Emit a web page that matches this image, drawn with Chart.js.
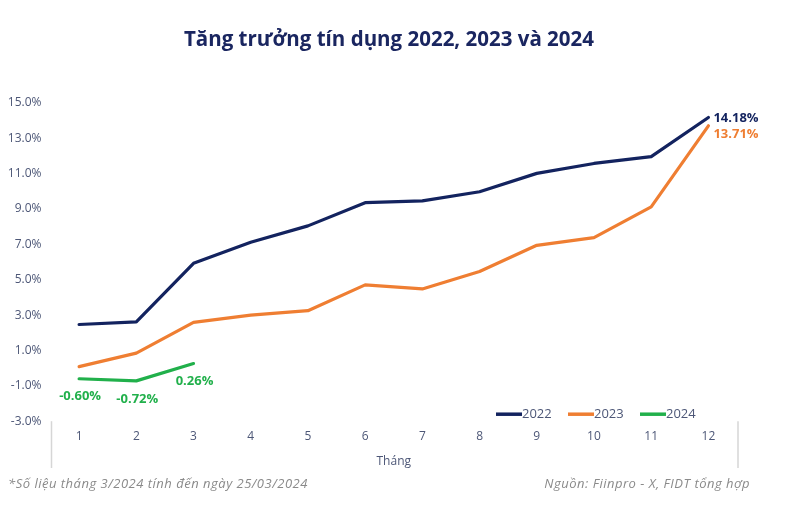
<!DOCTYPE html>
<html>
<head>
<meta charset="utf-8">
<script src="https://cdn.jsdelivr.net/npm/chart.js@4.4.1/dist/chart.umd.min.js"></script>
<style>
  html, body { margin: 0; padding: 0; background: #ffffff; }
  #wrap { position: relative; width: 800px; height: 505px; overflow: hidden; }
  #c { position: absolute; left: 0; top: 0; }
  #title { position: absolute; left: 0; width: 778px; top: 25px; text-align: center; font-family: "Open Sans", sans-serif; font-weight: bold; font-size: 20.5px; line-height: 26px; color: #1a2660; white-space: nowrap; }
  .note { position: absolute; top: 474px; font-family: "Open Sans", sans-serif; font-style: italic; font-size: 13px; letter-spacing: 0.5px; color: #8a8a8a; white-space: nowrap; }
  #n1 { left: 8px; }
  #n2 { right: 50px; }
</style>
</head>
<body>
<div id="wrap">
  <canvas id="c" width="800" height="505"></canvas>
  <div id="title">Tăng trưởng tín dụng 2022, 2023 và 2024</div>
  <div class="note" id="n1">*Số liệu tháng 3/2024 tính đến ngày 25/03/2024</div>
  <div class="note" id="n2">Nguồn: Fiinpro - X, FIDT tổng hợp</div>
</div>
<script>
const months = ['1','2','3','4','5','6','7','8','9','10','11','12'];
const s2022 = [2.47, 2.62, 5.93, 7.12, 8.05, 9.36, 9.46, 9.98, 11.02, 11.58, 11.97, 14.18];
const s2023 = [0.09, 0.85, 2.59, 3.00, 3.25, 4.71, 4.48, 5.47, 6.95, 7.38, 9.12, 13.71];
const s2024 = [-0.60, -0.72, 0.26, null, null, null, null, null, null, null, null, null];
const seriesNames = ['2022', '2023', '2024'];
const seriesColors = ['#13235f', '#ef7e32', '#21b04b'];

const FONT = '"Open Sans", sans-serif';
const TICK_COLOR = '#4d5777';

const edgeLines = {
  id: 'edgeLines',
  afterDraw(chart) {
    const ctx = chart.ctx, x = chart.scales.x, area = chart.chartArea;
    ctx.save();
    ctx.strokeStyle = '#d6d6d6';
    ctx.lineWidth = 1.5;
    [x.left, x.right].forEach(px => {
      ctx.beginPath();
      ctx.moveTo(px + 1, area.bottom);
      ctx.lineTo(px + 1, x.bottom - 5);
      ctx.stroke();
    });
    ctx.restore();
  }
};

const inLegend = {
  id: 'inLegend',
  afterDraw(chart) {
    const ctx = chart.ctx, area = chart.chartArea;
    ctx.save();
    ctx.font = '13px ' + FONT;
    const lineW = 26, itemW = 72;
    let x = area.right - 241;
    const y = area.bottom - 7;
    ctx.textBaseline = 'middle';
    ctx.textAlign = 'left';
    seriesNames.forEach((n, i) => {
      ctx.strokeStyle = seriesColors[i];
      ctx.lineWidth = 3.5;
      ctx.beginPath();
      ctx.moveTo(x, y);
      ctx.lineTo(x + lineW, y);
      ctx.stroke();
      ctx.fillStyle = TICK_COLOR;
      ctx.fillText(n, x + lineW, y);
      x += itemW;
    });
    ctx.restore();
  }
};

const valueLabels = {
  id: 'valueLabels',
  afterDatasetsDraw(chart) {
    const ctx = chart.ctx;
    ctx.save();
    ctx.font = 'bold 13px ' + FONT;
    ctx.textBaseline = 'middle';
    [0, 1].forEach(di => {
      const ds = chart.data.datasets[di];
      const meta = chart.getDatasetMeta(di);
      const last = ds.data.length - 1;
      const pt = meta.data[last];
      ctx.fillStyle = seriesColors[di];
      ctx.textAlign = 'left';
      const dy = di === 0 ? 1 : 8;
      ctx.fillText(ds.data[last].toFixed(2) + '%', pt.x + 5, pt.y + dy);
    });
    const ds = chart.data.datasets[2];
    const meta = chart.getDatasetMeta(2);
    ctx.fillStyle = seriesColors[2];
    ctx.textAlign = 'center';
    ds.data.forEach((v, i) => {
      if (v === null) return;
      const pt = meta.data[i];
      ctx.fillText(v.toFixed(2) + '%', pt.x + 1, pt.y + 18);
    });
    ctx.restore();
  }
};

new Chart(document.getElementById('c'), {
  type: 'line',
  data: {
    labels: months,
    datasets: [
      { label: seriesNames[0], data: s2022, borderColor: seriesColors[0], backgroundColor: seriesColors[0] },
      { label: seriesNames[1], data: s2023, borderColor: seriesColors[1], backgroundColor: seriesColors[1] },
      { label: seriesNames[2], data: s2024, borderColor: seriesColors[2], backgroundColor: seriesColors[2] }
    ]
  },
  options: {
    responsive: false,
    animation: false,
    devicePixelRatio: 1,
    layout: { padding: { left: 4, right: 63, top: 103, bottom: 32 } },
    elements: {
      line: { borderWidth: 3.2, tension: 0, borderCapStyle: 'round', borderJoinStyle: 'round' },
      point: { radius: 0, hoverRadius: 0 }
    },
    plugins: {
      legend: { display: false },
      tooltip: { enabled: false },
      title: { display: false }
    },
    scales: {
      x: {
        offset: true,
        border: { display: false },
        grid: { display: false, drawTicks: false },
        ticks: { color: TICK_COLOR, font: { family: FONT, size: 12 }, padding: 8, maxRotation: 0 },
        title: { display: true, text: 'Tháng', color: TICK_COLOR, font: { family: FONT, size: 12 }, padding: { top: 3, bottom: 4 } }
      },
      y: {
        min: -3,
        max: 15,
        afterFit(scale) { scale.width = 46.5; },
        border: { display: false },
        grid: {
          drawTicks: false,
          color: ctx => (ctx.tick && ctx.tick.value === 0) ? '#d2d2d2' : 'rgba(0,0,0,0)',
          lineWidth: 1.5
        },
        ticks: {
          stepSize: 2,
          color: TICK_COLOR,
          font: { family: FONT, size: 12 },
          padding: 9,
          callback: v => v.toFixed(1) + '%'
        }
      }
    }
  },
  plugins: [edgeLines, inLegend, valueLabels]
});
</script>
</body>
</html>
